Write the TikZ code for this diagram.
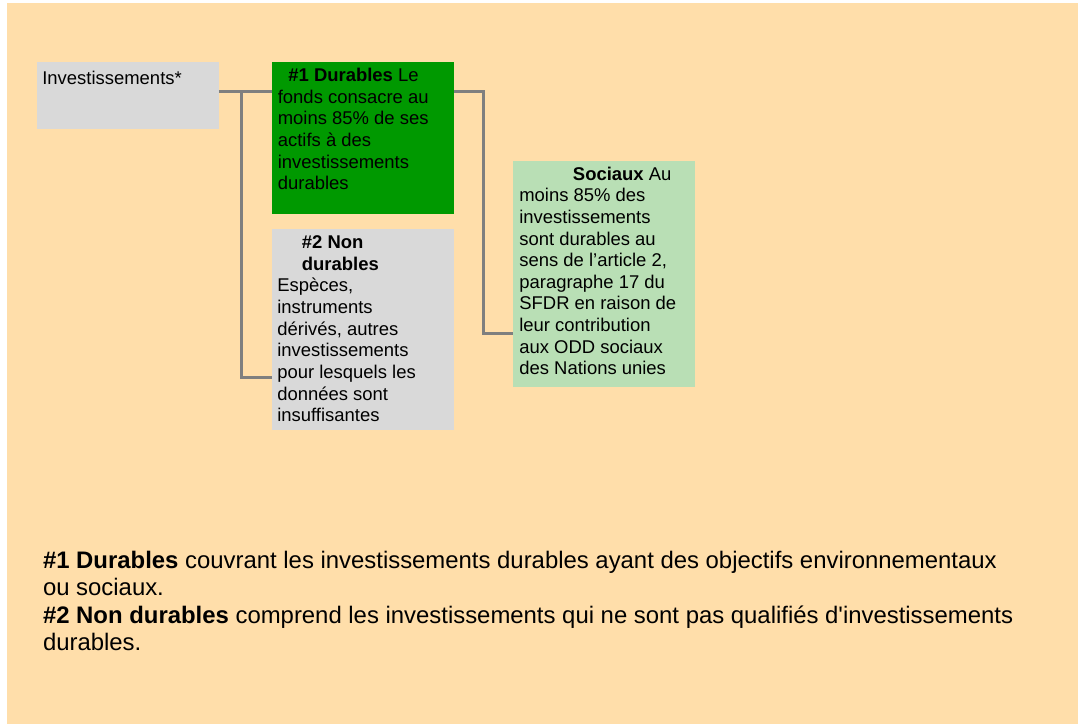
\documentclass[tikz,border=0pt]{standalone}
\usepackage{fontspec}
\setmainfont{Liberation Sans}
\usepackage{xcolor}
\definecolor{bgsand}{RGB}{255, 222, 170}
\definecolor{boxgray}{RGB}{217, 217, 217}
\definecolor{durgreen}{RGB}{0, 153, 0}
\definecolor{socgreen}{RGB}{185, 223, 181}
\definecolor{linkgray}{RGB}{127, 127, 127}
\tikzset{
  box/.style={anchor=north west, inner sep=0pt, outer sep=0pt},
  % le strut fixe la hauteur de la première ligne : 9pt = 15.9 unités
  boxtext/.style={anchor=north west, inner sep=0pt, align=left,
    font=\fontsize{10.5}{12.3}\selectfont, execute at begin node={\rule{0pt}{9pt}}},
  link/.style={draw=linkgray, line width=1.5pt},
}

\begin{document}
\begin{tikzpicture}[x=0.02cm, y=-0.02cm]
  \useasboundingbox (0,0) rectangle (1078,724);

  % fond
  \fill[bgsand] (7,3) rectangle (1078,724);

  % boîtes
  \node[box, fill=boxgray, minimum width=3.64cm, minimum height=1.34cm] (inv) at (37,62) {};
  \node[box, fill=durgreen, minimum width=3.64cm, minimum height=3.04cm] (dur) at (272,62) {};
  \node[box, fill=boxgray, minimum width=3.64cm, minimum height=4.02cm] (nond) at (272,229) {};
  \node[box, fill=socgreen, minimum width=3.64cm, minimum height=4.52cm] (soc) at (513,161) {};

  % textes des boîtes
  \node[boxtext] (inv-txt) at (42,68) {Investissements*};
  \node[boxtext] (dur-txt) at (277.5,68)
    {\hspace*{6pt}\textbf{\#1 Durables} Le\\fonds consacre au\\moins 85\% de ses\\actifs à des\\investissements\\durables};
  \node[boxtext] (nond-txt) at (277,235.5)
    {\hspace*{14pt}\textbf{\#2 Non}\\\hspace*{14pt}\textbf{durables}\\Espèces,\\instruments\\dérivés, autres\\investissements\\pour lesquels les\\données sont\\insuffisantes};
  \node[boxtext] (soc-txt) at (519,166.5)
    {\hspace*{30.5pt}\textbf{Sociaux} Au\\moins 85\% des\\investissements\\sont durables au\\sens de l’article 2,\\paragraphe 17 du\\SFDR en raison de\\leur contribution\\aux ODD sociaux\\des Nations unies};

  % liaisons
  \coordinate (j1) at (241.7,91.7);
  \coordinate (k1) at (241.7,377.7);
  \coordinate (j2) at (483.5,91.7);
  \coordinate (k2) at (483.5,333.7);
  \draw[link] (inv.east |- j1) -- (dur.west |- j1);
  \draw[link] (j1) -- (k1) -- (nond.west |- k1);
  \draw[link] (dur.east |- j2) -- (j2) -- (k2) -- (soc.west |- k2);

  % légende
  \node[anchor=north west, inner sep=0pt, align=left, font=\fontsize{13.6}{15.7}\selectfont,
    execute at begin node={\rule{0pt}{11pt}}] (legend) at (42.7,550.5)
    {\textbf{\#1 Durables} couvrant les investissements durables ayant des objectifs environnementaux\\ou sociaux.\\\textbf{\#2 Non durables} comprend les investissements qui ne sont pas qualifiés d\textquotesingle investissements\\durables.};
\end{tikzpicture}
\end{document}
